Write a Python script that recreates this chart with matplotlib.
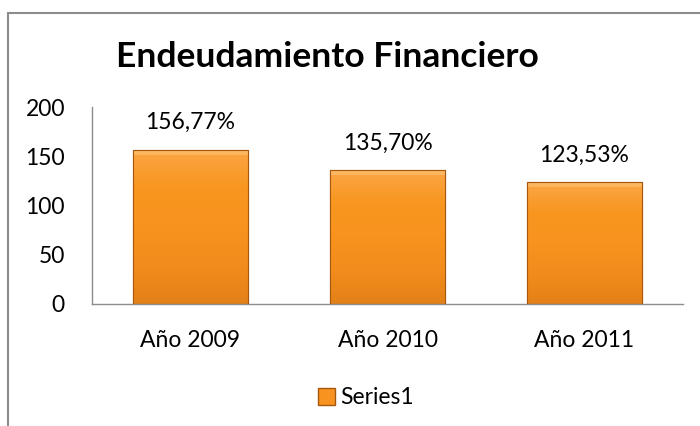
import matplotlib
matplotlib.use("Agg")
import matplotlib.pyplot as plt
import numpy as np
from matplotlib.patches import Rectangle
from matplotlib.colors import LinearSegmentedColormap

categories = ["Año 2009", "Año 2010", "Año 2011"]
values = [156.77, 135.70, 123.53]
labels = ["156,77%", "135,70%", "123,53%"]
yticks = [0, 50, 100, 150, 200]

plt.rcParams['font.family'] = ['Lato', 'DejaVu Sans']

W, H = 700, 426
fig = plt.figure(figsize=(W/100, H/100), dpi=100)
ax = fig.add_axes([92/W, 1 - 304/H, (683-92)/W, (304-107)/H])

x = list(range(len(categories)))
bw = 0.58
bars = ax.bar(x, values, width=bw, color='#F7931E', edgecolor='#A8580E', linewidth=0.8, zorder=2)

# vertical gradient fill (light top -> darker bottom)
cmap = LinearSegmentedColormap.from_list('bar', ['#FBA646', '#F8961F', '#F7931E', '#F28C1C', '#E38018'])
grad = np.linspace(0, 1, 256).reshape(-1, 1)
for b in bars:
    x0, y0 = b.get_x(), b.get_y()
    w, h = b.get_width(), b.get_height()
    im = ax.imshow(grad, cmap=cmap, aspect='auto', extent=(x0, x0 + w, y0, y0 + h),
                   origin='upper', zorder=2.5)
    im.set_clip_path(b)
    # top bevel highlight
    ax.add_patch(Rectangle((x0, y0 + h - 5), w, 5, facecolor='#FDBA66', edgecolor='none',
                           alpha=0.85, zorder=2.6))
    ax.add_patch(Rectangle((x0, y0), w, h, fill=False, edgecolor='#A8580E',
                           linewidth=0.8, zorder=2.7))

for xi, v, lab in zip(x, values, labels):
    ax.annotate(lab, (xi, v), xytext=(0, 12), textcoords='offset points',
                ha='center', va='bottom', fontsize=16.5)

ax.set_xlim(-0.5, 2.5)
ax.set_ylim(0, 200)
ax.set_yticks(yticks)
ax.set_xticks(x)
ax.set_xticklabels(categories)
ax.tick_params(axis='both', length=0, labelsize=16.5, colors='black')
ax.tick_params(axis='y', pad=19.5)
ax.tick_params(axis='x', pad=19)
for s in ['top', 'right']:
    ax.spines[s].set_visible(False)
for s in ['left', 'bottom']:
    ax.spines[s].set_color('#8C8C8C')
    ax.spines[s].set_linewidth(1.0)

fig.text(327/W, 1 - 57/H, "Endeudamiento Financiero", ha='center', va='center',
         fontsize=25.5, fontweight='bold')

# outer chart border
fig.patches.append(Rectangle((7.5/W, -0.1), 1.2, 1 - 12.5/H + 0.1, transform=fig.transFigure,
                             fill=False, edgecolor='#8C8C8C', linewidth=1.5))

# legend
handle = Rectangle((0, 0), 1, 1, facecolor='#F7931E', edgecolor='#A8580E')
fig.legend([handle], ["Series1"], loc='center', bbox_to_anchor=(366/W, 1 - 398/H),
           frameon=False, fontsize=16.5, handlelength=0.75, handleheight=0.75, handletextpad=0.2)

fig.savefig("out.png", dpi=100)
